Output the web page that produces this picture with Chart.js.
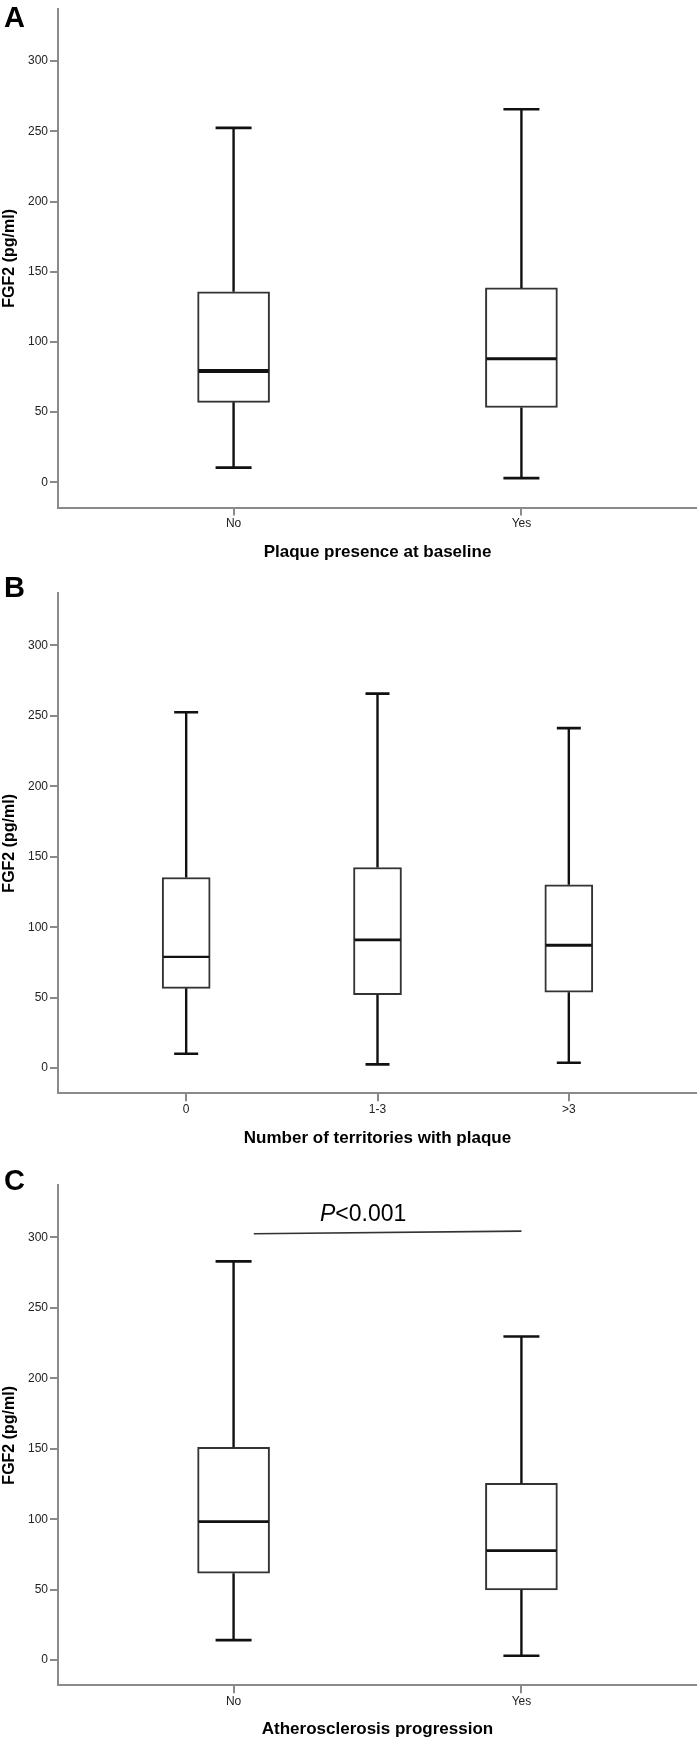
<!DOCTYPE html>
<html>
<head>
<meta charset="utf-8">
<script src="https://cdn.jsdelivr.net/npm/chart.js@4"></script>
<style>
	body { margin: 0; background: #fff; width: 697px; height: 1740px; position: relative; overflow: hidden; }
	canvas { position: absolute; left: 0; }
</style>
</head>
<body>
<canvas id="chartA" width="697" height="565" style="top:0px"></canvas>
<canvas id="chartB" width="697" height="590" style="top:565px"></canvas>
<canvas id="chartC" width="697" height="585" style="top:1155px"></canvas>
<script>
// y ticks shared by all three panels
const yTicks = [0, 50, 100, 150, 200, 250, 300];

// A: plaque presence at baseline
const labelsA = ["No", "Yes"];
const minA = [10.5, 3];
const q1A = [57, 53.3];
const medA = [79.4, 88];
const q3A = [135.7, 138.5];
const maxA = [252.5, 265.7];

// B: number of territories with plaque
const labelsB = ["0", "1-3", ">3"];
const minB = [10.2, 2.6, 3.8];
const q1B = [56.6, 52.1, 53.8];
const medB = [78.9, 91, 87.2];
const q3B = [135.3, 142.4, 130.1];
const maxB = [252.6, 265.8, 241.3];

// C: atherosclerosis progression
const labelsC = ["No", "Yes"];
const minC = [14.2, 3.1];
const q1C = [61.7, 49.8];
const medC = [98.3, 77.7];
const q3C = [151, 125.4];
const maxC = [283, 229.7];
const pLineX = [1.07, 2.0];
const pLineY = [302.6, 304.5];
const pText = "0.001";

const axisGrey = "#8a8a8a";
const fontFam = "'Liberation Sans', Arial, sans-serif";

// whiskers, caps and medians, placed with the chart's scales
const boxPlugin = {
	id: "boxWhiskers",
	afterDatasetsDraw: (chart) => {
		const o = chart.options.plugins.boxWhiskers;
		const xs = chart.scales.x;
		const ys = chart.scales.y;
		const ctx = chart.ctx;
		const w = o.boxWidth;
		ctx.save();
		ctx.strokeStyle = "#111";
		ctx.lineCap = "butt";
		o.med.forEach((m, i) => {
			const x = xs.getPixelForValue(i + 1);
			ctx.lineWidth = 2.4;
			ctx.beginPath();
			ctx.moveTo(x, ys.getPixelForValue(o.q3[i]));
			ctx.lineTo(x, ys.getPixelForValue(o.max[i]));
			ctx.moveTo(x, ys.getPixelForValue(o.q1[i]));
			ctx.lineTo(x, ys.getPixelForValue(o.min[i]));
			ctx.stroke();
			ctx.lineWidth = 2.6;
			ctx.beginPath();
			ctx.moveTo(x - w / 4, ys.getPixelForValue(o.max[i]));
			ctx.lineTo(x + w / 4, ys.getPixelForValue(o.max[i]));
			ctx.moveTo(x - w / 4, ys.getPixelForValue(o.min[i]));
			ctx.lineTo(x + w / 4, ys.getPixelForValue(o.min[i]));
			ctx.stroke();
			ctx.lineWidth = o.medWidth[i];
			ctx.beginPath();
			ctx.moveTo(x - w / 2 + 1, ys.getPixelForValue(m));
			ctx.lineTo(x + w / 2 - 1, ys.getPixelForValue(m));
			ctx.stroke();
		});
		ctx.restore();
	},
};

// panel letter, axis titles and the p value
const textPlugin = {
	id: "panelText",
	afterDraw: (chart) => {
		const o = chart.options.plugins.panelText;
		const ca = chart.chartArea;
		const ctx = chart.ctx;
		ctx.save();
		ctx.fillStyle = "#000";
		ctx.textBaseline = "alphabetic";
		ctx.textAlign = "left";
		ctx.font = "bold 29px " + fontFam;
		ctx.fillText(o.letter, o.letterX, o.letterBase);

		ctx.textAlign = "center";
		ctx.font = "bold 17px " + fontFam;
		ctx.fillText(o.xTitle, (ca.left + ca.right) / 2, o.xTitleBase);

		ctx.save();
		ctx.textBaseline = "middle";
		ctx.font = "bold 16px " + fontFam;
		ctx.translate(10, (ca.top + ca.bottom) / 2);
		ctx.rotate(-Math.PI / 2);
		ctx.fillText("FGF2 (pg/ml)", 0, 0);
		ctx.restore();

		if (o.pValue) {
			const xs = chart.scales.x;
			const ys = chart.scales.y;
			const cx = xs.getPixelForValue(o.pX);
			const by = ys.getPixelForValue(o.pY);
			ctx.font = "italic 23px " + fontFam;
			const w1 = ctx.measureText("P").width;
			ctx.font = "23px " + fontFam;
			const w2 = ctx.measureText("<" + o.pValue).width;
			ctx.textAlign = "left";
			const x0 = cx - (w1 + w2) / 2;
			ctx.font = "italic 23px " + fontFam;
			ctx.fillText("P", x0, by);
			ctx.font = "23px " + fontFam;
			ctx.fillText("<" + o.pValue, x0 + w1, by);
		}
		ctx.restore();
	},
};

makePanel = (canvas, labels, mins, q1s, meds, q3s, maxs, opts) => {
	const datasets = [
		{
			type: "bar",
			data: labels.map((l, i) => ({ x: i + 1, y: [q1s[i], q3s[i]] })),
			backgroundColor: "#fff",
			borderColor: "#333",
			borderWidth: 2,
			borderSkipped: false,
			barThickness: opts.boxWidth,
		},
	];
	if (opts.lineX) {
		datasets.push({
			type: "line",
			data: opts.lineX.map((v, i) => ({ x: v, y: opts.lineY[i] })),
			borderColor: "#333",
			borderWidth: 1.6,
			pointRadius: 0,
			fill: false,
		});
	}
	return new Chart(canvas, {
		type: "bar",
		data: { datasets: datasets },
		options: {
			responsive: false,
			animation: false,
			layout: { padding: { top: opts.padTop, left: 0, right: 0, bottom: 0 } },
			scales: {
				x: {
					type: "linear",
					offset: false,
					min: opts.xMin,
					max: opts.xMax,
					afterBuildTicks: (s) => {
						s.ticks = labels.map((l, i) => ({ value: i + 1 }));
					},
					afterFit: (s) => {
						s.height = opts.xHeight;
					},
					ticks: {
						autoSkip: false,
						maxRotation: 0,
						padding: 1,
						color: "#222",
						font: { family: fontFam, size: 12 },
						callback: (v, i) => labels[i],
					},
					grid: { display: true, offset: false, drawOnChartArea: false, drawTicks: true, tickLength: 8, color: axisGrey, lineWidth: 2 },
					border: { display: true, color: axisGrey, width: 2 },
				},
				y: {
					min: -17.9,
					max: 337,
					afterBuildTicks: (s) => {
						s.ticks = yTicks.map((v) => ({ value: v }));
					},
					afterFit: (s) => {
						s.width = 58;
					},
					ticks: {
						padding: 2,
						color: "#222",
						font: { family: fontFam, size: 12 },
					},
					grid: { display: true, drawOnChartArea: false, drawTicks: true, tickLength: 8, color: axisGrey, lineWidth: 2 },
					border: { display: true, color: axisGrey, width: 2 },
				},
			},
			plugins: {
				legend: { display: false },
				tooltip: { enabled: false },
				boxWhiskers: {
					boxWidth: opts.boxWidth,
					min: mins, q1: q1s, med: meds, q3: q3s, max: maxs,
					medWidth: opts.medWidth,
				},
				panelText: {
					letter: opts.letter,
					letterX: 4,
					letterBase: opts.letterBase,
					xTitle: opts.xTitle,
					xTitleBase: opts.xTitleBase,
					pValue: opts.pValue,
					pX: opts.pX,
					pY: opts.pY,
				},
			},
		},
		plugins: [boxPlugin, textPlugin],
	});
};

makePanel(document.querySelector("#chartA"), labelsA, minA, q1A, medA, q3A, maxA, {
	padTop: 7, xHeight: 57.5, xMin: 0.39, xMax: 2.61, boxWidth: 72, medWidth: [4, 3],
	letter: "A", letterBase: 27, xTitle: "Plaque presence at baseline", xTitleBase: 556.7,
});
makePanel(document.querySelector("#chartB"), labelsB, minB, q1B, medB, q3B, maxB, {
	padTop: 28.3, xHeight: 61.7, xMin: 0.33, xMax: 3.67, boxWidth: 48, medWidth: [2.3, 2.8, 2.8],
	letter: "B", letterBase: 31.7, xTitle: "Number of territories with plaque", xTitleBase: 577.7,
});
makePanel(document.querySelector("#chartC"), labelsC, minC, q1C, medC, q3C, maxC, {
	padTop: 30.3, xHeight: 54.7, xMin: 0.39, xMax: 2.61, boxWidth: 72, medWidth: [2.8, 2.8],
	letter: "C", letterBase: 35, xTitle: "Atherosclerosis progression", xTitleBase: 579.3,
	lineX: pLineX, lineY: pLineY, pValue: pText, pX: 1.45, pY: 312,
});
</script>
</body>
</html>
